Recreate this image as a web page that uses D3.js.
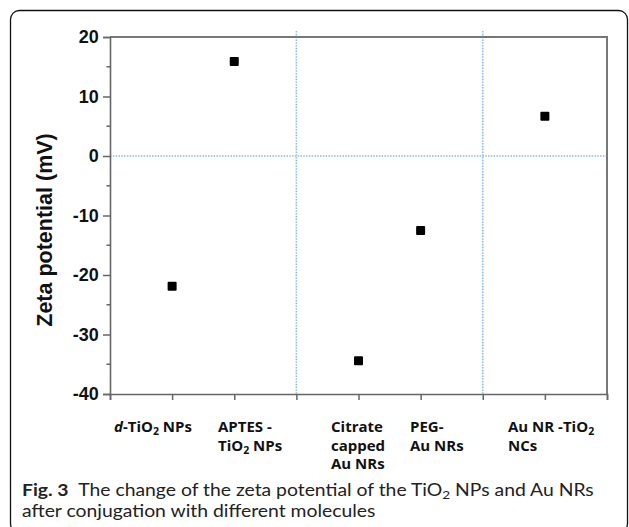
<!DOCTYPE html>
<html>
<head>
<meta charset="utf-8">
<script src="https://cdn.jsdelivr.net/npm/d3@7"></script>
<style>
  body { margin: 0; background: #fff; }
</style>
</head>
<body>
<script>
var width = 629;
var height = 527;

// sample positions (x index) and zeta potential values, mV
var samplePos = [1, 2, 4, 5, 7];
var zetaValues = [-21.9, 15.9, -34.4, -12.5, 6.7];
// label lines, "_2" marks a subscript 2
var sampleLabels = [
    ["d-TiO_2 NPs"],
    ["APTES -", "TiO_2 NPs"],
    ["Citrate", "capped", "Au NRs"],
    ["PEG-", "Au NRs"],
    ["Au NR -TiO_2", "NCs"]
];
var labelStart = [114, 218, 331, 410, 508];
var yTicks = [-40, -30, -20, -10, 0, 10, 20];
var yMinor = [-35, -25, -15, -5, 5, 15];
var xTicks = [0, 1, 2, 3, 4, 5, 6, 7, 8];
var groupDividers = [3, 6];

var svg = d3.select('body').append('svg')
    .attr('width', width)
    .attr('height', height);

// outer frame
svg.append('rect')
    .attr('x', 10.5).attr('y', 10.5)
    .attr('width', 617).attr('height', 522)
    .attr('rx', 9)
    .attr('fill', 'none')
    .attr('stroke', '#111')
    .attr('stroke-width', 1.3);

var x = d3.scaleLinear().domain([0, 8]).range([110, 607]);
var y = d3.scaleLinear().domain([-40, 20]).range([394, 37]);

var plot = svg.append('g');

// dotted guide lines
plot.append('line')
    .attr('x1', x(0)).attr('x2', x(8))
    .attr('y1', y(0)).attr('y2', y(0))
    .attr('stroke', '#8fbde6').attr('stroke-width', 1.6)
    .attr('stroke-dasharray', '1.6,1.2');

plot.selectAll('.divider')
    .data(groupDividers)
    .enter()
    .append('line')
    .attr('class', 'divider')
    .attr('x1', function (d) { return x(d); })
    .attr('x2', function (d) { return x(d); })
    .attr('y1', 31).attr('y2', y(-40))
    .attr('stroke', '#8fbde6').attr('stroke-width', 1.6)
    .attr('stroke-dasharray', '1.6,1.2');

// top and right frame of the plot
plot.append('path')
    .attr('d', 'M' + x(0) + ',' + y(20) + 'H' + x(8) + 'V' + y(-40))
    .attr('fill', 'none')
    .attr('stroke', '#777')
    .attr('stroke-width', 2);

// y axis
var yAxis = d3.axisLeft(y)
    .tickValues(yTicks)
    .tickSize(7)
    .tickPadding(6)
    .tickFormat(function (d) { return String(d); });

var gy = svg.append('g')
    .attr('transform', 'translate(' + x(0) + ',0)')
    .call(yAxis);
gy.select('.domain').attr('stroke', '#666').attr('stroke-width', 1.6);
gy.selectAll('.tick line').attr('stroke', '#666').attr('stroke-width', 1.5);
gy.selectAll('.tick text')
    .attr('font-family', 'Liberation Sans, Arial, sans-serif')
    .attr('font-weight', 'bold')
    .attr('font-size', 18)
    .attr('fill', '#111')
    .attr('dx', '0.1em');

svg.selectAll('.minor')
    .data(yMinor)
    .enter()
    .append('line')
    .attr('class', 'minor')
    .attr('x1', x(0) - 3.5).attr('x2', x(0))
    .attr('y1', function (d) { return y(d); })
    .attr('y2', function (d) { return y(d); })
    .attr('stroke', '#666').attr('stroke-width', 1.5);

// x axis
var xAxis = d3.axisBottom(x)
    .tickValues(xTicks)
    .tickSize(6)
    .tickFormat('');

var gx = svg.append('g')
    .attr('transform', 'translate(0,' + y(-40) + ')')
    .call(xAxis);
gx.select('.domain').attr('stroke', '#666').attr('stroke-width', 1.6);
gx.selectAll('.tick line').attr('stroke', '#666').attr('stroke-width', 1.5);

// y axis title
svg.append('text')
    .attr('transform', 'translate(52,230) rotate(-90)')
    .attr('text-anchor', 'middle')
    .attr('font-family', 'Liberation Sans, Arial, sans-serif')
    .attr('font-weight', 'bold')
    .attr('font-size', 21.5)
    .attr('fill', '#111')
    .text('Zeta potential (mV)');

// data points
svg.selectAll('.pt')
    .data(zetaValues)
    .enter()
    .append('rect')
    .attr('class', 'pt')
    .attr('x', function (d, i) { return x(samplePos[i]) - 4.5; })
    .attr('y', function (d) { return y(d) - 4.5; })
    .attr('width', 9).attr('height', 9)
    .attr('rx', 1)
    .attr('fill', '#000');

// write a line of text with "_2" as subscript
function writeLine(sel, str, italicD) {
    var parts = str.split('_');
    parts.forEach(function (p, k) {
        if (k > 0) {
            sel.append('tspan')
                .attr('font-size', '0.7em')
                .attr('dy', 3)
                .text(p.charAt(0));
            sel.append('tspan')
                .attr('dy', -3)
                .text(p.slice(1));
        } else if (italicD && p.charAt(0) === 'd') {
            sel.append('tspan').attr('font-style', 'italic').text('d');
            sel.append('tspan').text(p.slice(1));
        } else {
            sel.append('tspan').text(p);
        }
    });
}

// x labels
sampleLabels.forEach(function (lines, i) {
    lines.forEach(function (ln, j) {
        var t = svg.append('text')
            .attr('x', labelStart[i])
            .attr('y', 432 + j * 18.5)
            .attr('font-family', 'Open Sans, sans-serif')
            .attr('font-weight', 'bold')
            .attr('font-size', 15)
            .attr('fill', '#111');
        writeLine(t, ln, true);
    });
});

// caption
var cap1 = svg.append('text')
    .attr('x', 0).attr('y', 0)
    .attr('font-family', 'Lato, sans-serif')
    .attr('font-size', 17)
    .attr('fill', '#222');
cap1.append('tspan').attr('font-weight', 'bold').text('Fig. 3');
cap1.append('tspan').text('\u2002The change of the zeta potential of the TiO');
cap1.append('tspan').attr('font-size', '0.7em').attr('dy', 3).text('2');
cap1.append('tspan').attr('dy', -3).text(' NPs and Au NRs');

var cap2 = svg.append('text')
    .attr('x', 0).attr('y', 0)
    .attr('font-family', 'Lato, sans-serif')
    .attr('font-size', 17)
    .attr('fill', '#222')
    .text('after conjugation with different molecules');

// stretch the caption to the width of the original line
var w1 = cap1.node().getComputedTextLength();
var sx = 572 / w1;
cap1.attr('transform', 'translate(22,496) scale(' + sx + ',1)');
cap2.attr('transform', 'translate(22,517) scale(' + sx + ',1)');
</script>
</body>
</html>
